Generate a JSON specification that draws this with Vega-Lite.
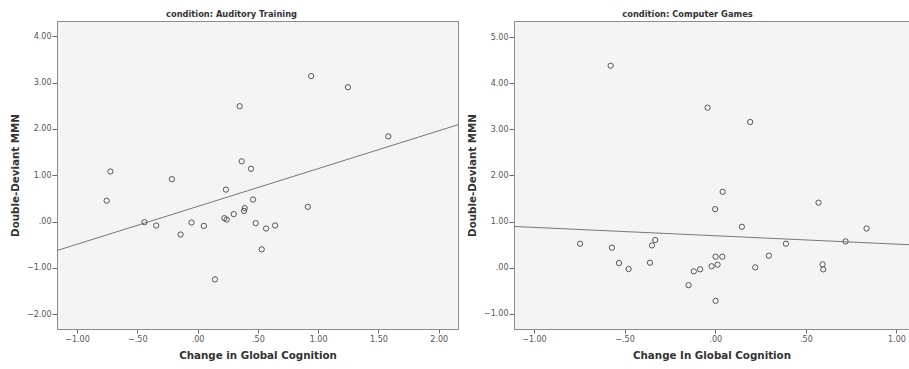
{
  "$schema": "https://vega.github.io/schema/vega-lite/v6.json",
  "padding": {"left": 9, "top": 9, "right": 0, "bottom": 0},
  "bounds": "flush",
  "spacing": 56,
  "background": "white",
  "config": {
    "font": "DejaVu Sans",
    "view": {"stroke": "#8c8c8c", "fill": "#f4f4f4", "strokeWidth": 1},
    "axis": {
      "grid": false,
      "domainColor": "#8c8c8c",
      "tickColor": "#666666",
      "tickSize": 5,
      "labelColor": "#555555",
      "labelFontSize": 8,
      "labelPadding": 1,
      "titleFontSize": 10.3,
      "titleColor": "#333333",
      "titleFontWeight": "bold",
      "labelExpr": "replace(format(datum.value, '.2f'), '0.', '.')"
    },
    "axisY": {"titlePadding": 6},
    "axisX": {"titlePadding": 7, "tickSize": 4, "labelPadding": 2},
    "title": {"fontSize": 8.3, "fontWeight": "bold", "color": "#333333", "offset": 3, "anchor": "middle"}
  },
  "datasets": {
    "auditory": [
      {"x": 0.942, "y": 3.14}, {"x": 1.247, "y": 2.90}, {"x": 0.349, "y": 2.49}, {"x": 1.582, "y": 1.84},
      {"x": 0.366, "y": 1.30}, {"x": 0.443, "y": 1.14}, {"x": -0.723, "y": 1.08}, {"x": -0.213, "y": 0.915},
      {"x": 0.235, "y": 0.69}, {"x": -0.754, "y": 0.45}, {"x": 0.460, "y": 0.475}, {"x": 0.914, "y": 0.317},
      {"x": 0.391, "y": 0.29}, {"x": 0.385, "y": 0.23}, {"x": 0.300, "y": 0.16}, {"x": 0.222, "y": 0.073},
      {"x": 0.241, "y": 0.043}, {"x": -0.44, "y": -0.014}, {"x": -0.05, "y": -0.02}, {"x": 0.482, "y": -0.035},
      {"x": -0.343, "y": -0.086}, {"x": 0.052, "y": -0.093}, {"x": 0.643, "y": -0.086}, {"x": 0.568, "y": -0.15},
      {"x": -0.141, "y": -0.28}, {"x": 0.532, "y": -0.60}, {"x": 0.144, "y": -1.25}
    ],
    "auditoryFit": [{"x": -1.166, "y": -0.626}, {"x": 2.16, "y": 2.09}],
    "games": [
      {"x": -0.577, "y": 4.38}, {"x": -0.042, "y": 3.47}, {"x": 0.193, "y": 3.16}, {"x": 0.041, "y": 1.645},
      {"x": 0.0, "y": 1.27}, {"x": 0.570, "y": 1.41}, {"x": 0.147, "y": 0.887}, {"x": 0.835, "y": 0.85},
      {"x": 0.719, "y": 0.57}, {"x": -0.745, "y": 0.52}, {"x": 0.39, "y": 0.52}, {"x": -0.57, "y": 0.433},
      {"x": -0.331, "y": 0.60}, {"x": -0.349, "y": 0.483}, {"x": -0.531, "y": 0.10}, {"x": -0.36, "y": 0.108},
      {"x": -0.478, "y": -0.03}, {"x": 0.002, "y": 0.238}, {"x": 0.039, "y": 0.238}, {"x": 0.296, "y": 0.26},
      {"x": -0.02, "y": 0.03}, {"x": 0.013, "y": 0.065}, {"x": 0.221, "y": 0.007}, {"x": -0.083, "y": -0.035},
      {"x": -0.118, "y": -0.08}, {"x": 0.592, "y": 0.072}, {"x": 0.596, "y": -0.036}, {"x": -0.147, "y": -0.38},
      {"x": 0.002, "y": -0.72}
    ],
    "gamesFit": [{"x": -1.11, "y": 0.894}, {"x": 1.069, "y": 0.498}]
  },
  "hconcat": [
    {
      "width": 401,
      "height": 308,
      "title": {"text": "condition: Auditory Training", "dx": -26},
      "layer": [
        {
          "data": {"name": "auditoryFit"},
          "mark": {"type": "line", "color": "#777777", "strokeWidth": 1, "clip": true},
          "encoding": {
            "x": {"field": "x", "type": "quantitative", "scale": {"domain": [-1.166, 2.16], "nice": false, "zero": false},
                  "axis": {"values": [-1, -0.5, 0, 0.5, 1, 1.5, 2], "title": "Change in Global Cognition"}},
            "y": {"field": "y", "type": "quantitative", "scale": {"domain": [-2.32, 4.33], "nice": false, "zero": false},
                  "axis": {"values": [-2, -1, 0, 1, 2, 3, 4], "title": "Double-Deviant MMN"}}
          }
        },
        {
          "data": {"name": "auditory"},
          "mark": {"type": "point", "shape": "circle", "filled": false, "color": "#555555", "size": 28, "strokeWidth": 1, "opacity": 1},
          "encoding": {
            "x": {"field": "x", "type": "quantitative"},
            "y": {"field": "y", "type": "quantitative"}
          }
        }
      ]
    },
    {
      "width": 395,
      "height": 308,
      "title": {"text": "condition: Computer Games", "dx": -24},
      "layer": [
        {
          "data": {"name": "gamesFit"},
          "mark": {"type": "line", "color": "#777777", "strokeWidth": 1, "clip": true},
          "encoding": {
            "x": {"field": "x", "type": "quantitative", "scale": {"domain": [-1.11, 1.069], "nice": false, "zero": false},
                  "axis": {"values": [-1, -0.5, 0, 0.5, 1], "title": "Change In Global Cognition"}},
            "y": {"field": "y", "type": "quantitative", "scale": {"domain": [-1.33, 5.35], "nice": false, "zero": false},
                  "axis": {"values": [-1, 0, 1, 2, 3, 4, 5], "title": "Double-Deviant MMN"}}
          }
        },
        {
          "data": {"name": "games"},
          "mark": {"type": "point", "shape": "circle", "filled": false, "color": "#555555", "size": 28, "strokeWidth": 1, "opacity": 1},
          "encoding": {
            "x": {"field": "x", "type": "quantitative"},
            "y": {"field": "y", "type": "quantitative"}
          }
        }
      ]
    }
  ]
}
